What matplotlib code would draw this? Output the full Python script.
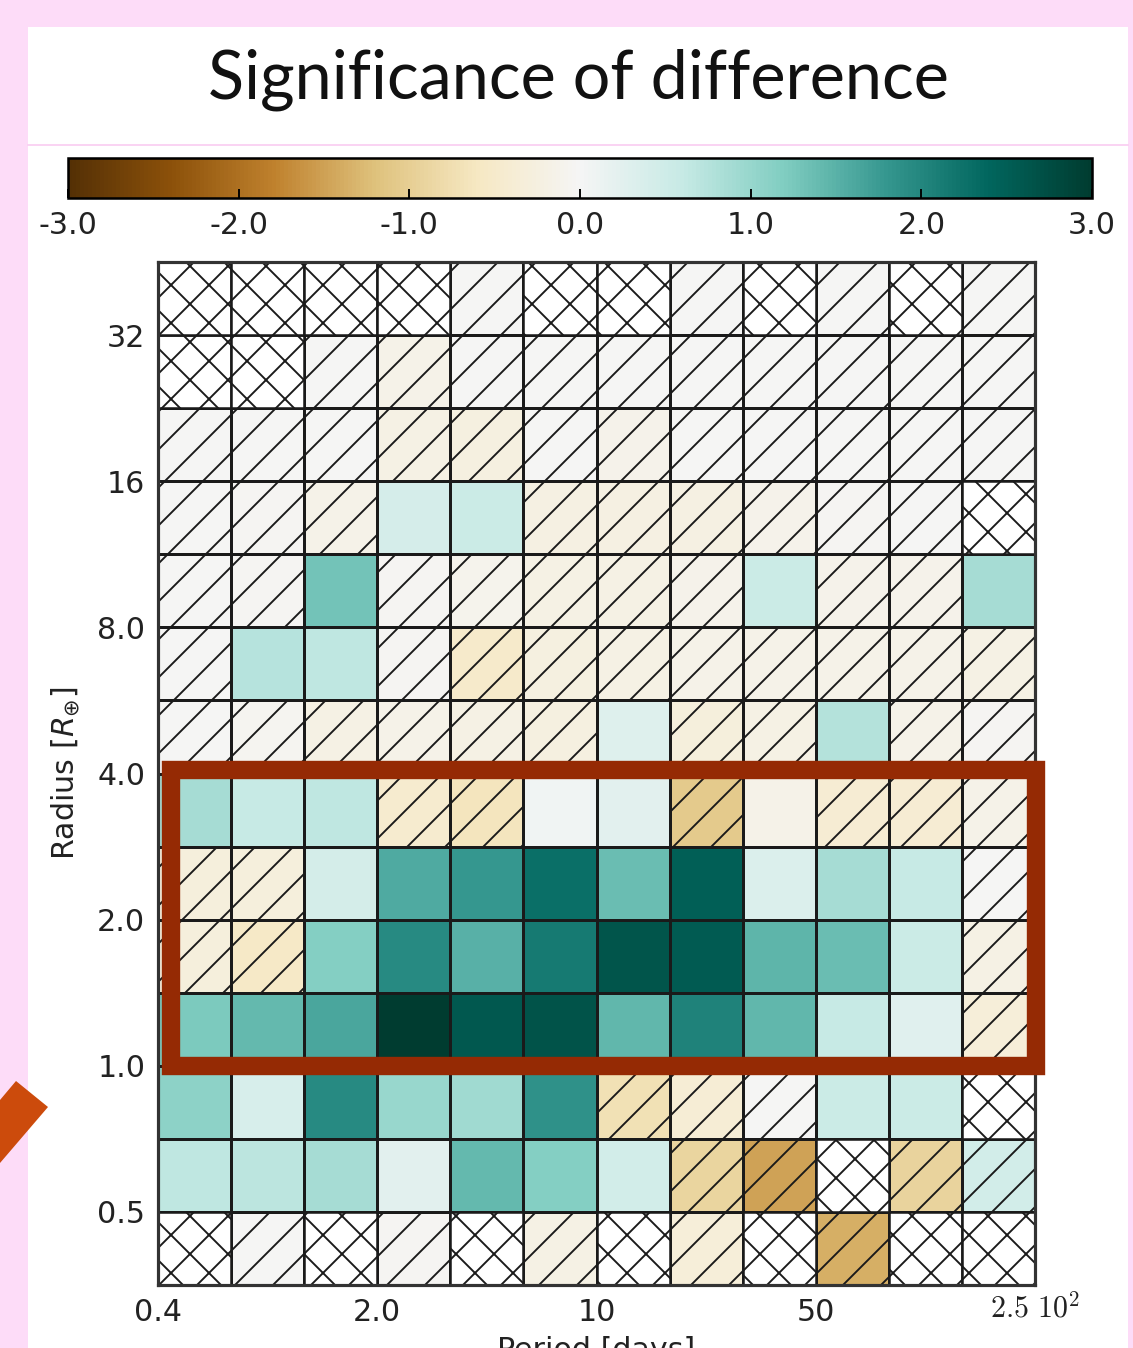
import numpy as np
import matplotlib
matplotlib.use('Agg')
import matplotlib.pyplot as plt
from matplotlib.patches import Rectangle, Polygon
from matplotlib.lines import Line2D
from matplotlib.ticker import FixedLocator, FixedFormatter, NullLocator

plt.rcParams['axes.unicode_minus'] = False
plt.rcParams['hatch.linewidth'] = 0.6

# bin edges: period in steps of 5**(1/3), radius in steps of sqrt(2)
period_edges = 0.4 * 5.0 ** (np.arange(13) / 3.0)
radius_edges = 2.0 ** (np.arange(-3, 12) / 2.0)

# significance per bin, bottom row (0.35-0.5 R_earth) first
nan = np.nan
sig = np.array([
    [nan, -0.02, nan, -0.03, nan, -0.2, nan, -0.34, nan, -1.37, nan, nan],
    [0.66, 0.68, 0.87, 0.25, 1.41, 1.17, 0.45, -0.9, -1.49, nan, -0.92, 0.45],
    [1.09, 0.38, 1.95, 0.99, 0.92, 1.86, -0.72, -0.38, -0.02, 0.55, 0.55, nan],
    [1.22, 1.41, 1.62, 3.0, 2.58, 2.67, 1.44, 2.05, 1.45, 0.6, 0.28, -0.35],
    [-0.3, -0.55, 1.15, 1.96, 1.52, 2.15, 2.63, 2.54, 1.47, 1.36, 0.55, -0.2],
    [-0.3, -0.3, 0.44, 1.59, 1.8, 2.28, 1.36, 2.49, 0.34, 0.88, 0.6, -0.02],
    [0.88, 0.6, 0.66, -0.45, -0.65, 0.05, 0.25, -1.07, -0.15, -0.4, -0.4, -0.15],
    [-0.02, -0.05, -0.2, -0.15, -0.2, -0.25, 0.3, -0.3, -0.2, 0.77, -0.15, -0.03],
    [-0.02, 0.73, 0.66, -0.03, -0.5, -0.25, -0.2, -0.15, -0.15, -0.15, -0.15, -0.2],
    [-0.02, -0.03, 1.3, -0.03, -0.1, -0.2, -0.2, -0.12, 0.55, -0.12, -0.12, 0.88],
    [-0.02, -0.03, -0.15, 0.42, 0.55, -0.22, -0.22, -0.22, -0.12, -0.03, -0.02, nan],
    [-0.02, -0.02, -0.02, -0.2, -0.25, -0.02, -0.12, -0.02, -0.02, -0.02, -0.02, -0.02],
    [nan, nan, -0.02, -0.15, -0.02, -0.02, -0.02, -0.02, -0.02, -0.02, -0.02, -0.02],
    [nan, nan, nan, nan, -0.02, nan, nan, -0.02, nan, -0.02, nan, -0.02],
])

# s = significant, h = not significant (hatched), x = no planets
status = [
    "xhxhxhxhxhxx",
    "ssssssshhxhh",
    "sssssshhhssx",
    "sssssssssssh",
    "hhsssssssssh",
    "hhsssssssssh",
    "ssshhsshshhh",
    "hhhhhhshhshh",
    "hsshhhhhhhhh",
    "hhshhhhhshhs",
    "hhhsshhhhhhx",
    "hhhhhhhhhhhh",
    "xxhhhhhhhhhh",
    "xxxxhxxhxhxh",
]

cbar_ticks = [-3, -2, -1, 0, 1, 2, 3]
x_ticks = [0.4, 2.0, 10, 50, 250]
x_labels = ['0.4', '2.0', '10', '50', '']
y_ticks = [0.5, 1, 2, 4, 8, 16, 32]
y_labels = ['0.5', '1.0', '2.0', '4.0', '8.0', '16', '32']

W, H, DPI = 1133, 1348, 228
pink = '#fddcf8'
fig = plt.figure(figsize=(W / DPI, H / DPI), dpi=DPI, facecolor=pink)


def fx(px):
    return px / W


def fy(py):
    return 1 - py / H


# white slide panel and title
fig.patches.append(Rectangle((fx(28), 0), fx(1128) - fx(28), fy(27),
                             transform=fig.transFigure, facecolor='white',
                             edgecolor='none', zorder=-10))
fig.lines.append(Line2D([fx(28), fx(1128)], [fy(145), fy(145)],
                        transform=fig.transFigure, color='#fad2f3', lw=0.6,
                        zorder=-5))
fig.text(fx(578), fy(80), 'Significance of difference', ha='center',
         va='center', fontsize=21, family='Lato', color='#111111')

ax = fig.add_axes([fx(158), fy(1285), fx(1035) - fx(158), fy(262) - fy(1285)])
cax = fig.add_axes([fx(68), fy(198), fx(1092) - fx(68), fy(158) - fy(198)])

mesh = ax.pcolormesh(period_edges, radius_edges, np.ma.masked_invalid(sig),
                     cmap='BrBG', vmin=-3, vmax=3, edgecolors='#1a1a1a',
                     linewidth=0.8)

st = np.array([list(r) for r in status])
left = np.tile(period_edges[:-1], (14, 1))
width = np.tile(np.diff(period_edges), (14, 1))
bottom = np.tile(radius_edges[:-1, None], (1, 12))
height = np.tile(np.diff(radius_edges)[:, None], (1, 12))

h = st == 'h'
ax.bar(left[h], height[h], width=width[h], bottom=bottom[h], align='edge',
       fill=False, hatch='//', edgecolor='#1a1a1a', linewidth=0.8)
x = st == 'x'
ax.bar(left[x], height[x], width=width[x], bottom=bottom[x], align='edge',
       facecolor='white', hatch='xx', edgecolor='#1a1a1a', linewidth=0.8)

ax.set_xscale('log')
ax.set_yscale('log')
ax.set_xlim(period_edges[0], period_edges[-1])
ax.set_ylim(radius_edges[0], radius_edges[-1])
ax.xaxis.set_major_locator(FixedLocator(x_ticks))
ax.xaxis.set_major_formatter(FixedFormatter(x_labels))
ax.yaxis.set_major_locator(FixedLocator(y_ticks))
ax.yaxis.set_major_formatter(FixedFormatter(y_labels))
ax.xaxis.set_minor_locator(NullLocator())
ax.yaxis.set_minor_locator(NullLocator())
ax.tick_params(length=0, pad=4, labelsize=9.5, labelcolor='#222222')
for s in ax.spines.values():
    s.set_linewidth(1.0)
    s.set_color('#333333')
ax.text(250, -0.0225, r'$2.5\ 10^{2}$', transform=ax.get_xaxis_transform(),
        ha='center', va='center', fontsize=9.5, math_fontfamily='cm',
        color='#222222')

ax.set_ylabel(r'Radius [$R_{\oplus}$]', fontsize=9.5, color='#222222')
ax.yaxis.set_label_coords((82 - 158) / 877, 0.5)
ax.set_xlabel('Period [days]', fontsize=9.5, color='#222222')
ax.xaxis.set_label_coords(0.5, (1285 - 1336) / 1023)

cb = fig.colorbar(mesh, cax=cax, orientation='horizontal', ticks=cbar_ticks,
                  format='%.1f')
cb.outline.set_linewidth(0.8)
cax.tick_params(direction='in', length=3, width=0.6, pad=4, labelsize=9.5,
                labelcolor='#222222')

# highlight box around the 1-4 R_earth rows
fig.patches.append(Rectangle((fx(171), fy(1066)), fx(1036) - fx(171),
                             fy(770) - fy(1066), transform=fig.transFigure,
                             fill=False, edgecolor='#952a04', lw=5.8,
                             joinstyle='miter', zorder=10))
# arrow tip at left edge
fig.patches.append(Polygon([(fx(0), fy(1100)), (fx(16), fy(1081)),
                            (fx(48), fy(1107)), (fx(0), fy(1163))],
                           closed=True, transform=fig.transFigure,
                           facecolor='#cc4b0c', edgecolor='none', zorder=10))

fig.savefig('out.png', dpi=DPI, facecolor=pink)
